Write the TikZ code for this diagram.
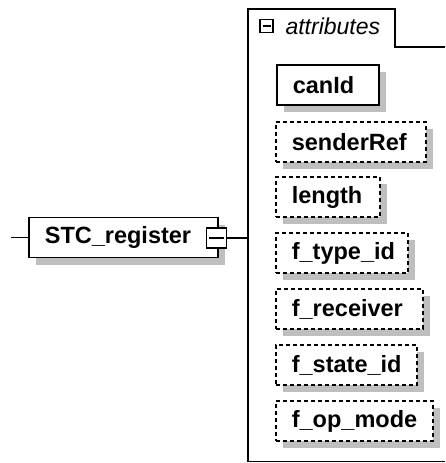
\documentclass[tikz,border=0pt]{standalone}
\usepackage{fontspec}
\setmainfont{Liberation Sans}
\usetikzlibrary{positioning,shadows}

\begin{document}
\begin{tikzpicture}[x=1pt,y=-1pt,
  font=\fontsize{23.5}{27}\selectfont\bfseries,
  elem/.style={draw, line width=1.7pt, fill=white, minimum height=40pt,
    inner xsep=16pt, align=left, anchor=west,
    drop shadow={shadow xshift=7pt, shadow yshift=-7pt, fill=black!25, opacity=1}},
  optelem/.style={elem, dash pattern=on 4pt off 3pt},
  minusbox/.style={draw, line width=1.6pt, fill=white, inner sep=0pt, minimum size=#1,
    path picture={\draw[line width=1.6pt]
      ([xshift=2.5pt]path picture bounding box.west) --
      ([xshift=-2.5pt]path picture bounding box.east);}}]
  \useasboundingbox (0,0) rectangle (445,463);

  % the attributes group
  \draw[line width=1.3pt] (445,47) -- (395,47) -- (395,9) -- (248,9)
    -- (248,461.5) -- (445,461.5);
  \coordinate (grp) at (248,9);
  \node[minusbox=13pt] (grpmin) at (266.5,26) {};
  \node[anchor=west, font=\fontsize{23}{27}\selectfont\itshape] (grplabel)
    at (282,26) {attributes};

  % the element and its attributes
  \node[elem, text width=157pt] (stc) at (28,237.5) {STC\_register};
  \node[minusbox=20pt] (stcmin) at (216.5,238) {};
  \node[elem, text width=70pt] (canid) at (276,85) {canId};
  \node[optelem, text width=118pt] (sender) at (275,142) {senderRef};
  \node[optelem, text width=72pt] (length) at (275,197) {length};
  \node[optelem, text width=100pt] (ftype) at (275,253) {f\_type\_id};
  \node[optelem, text width=115pt] (frecv) at (275,309) {f\_receiver};
  \node[optelem, text width=109pt] (fstate) at (275,365) {f\_state\_id};
  \node[optelem, text width=125pt] (fop) at (275,421) {f\_op\_mode};

  % connectors
  \coordinate (in) at (11,237.5);
  \draw[line width=1.3pt] (in) -- (stc.west);
  \draw[line width=1.3pt] (stcmin.east) -- (stcmin.east -| grp);
\end{tikzpicture}
\end{document}
